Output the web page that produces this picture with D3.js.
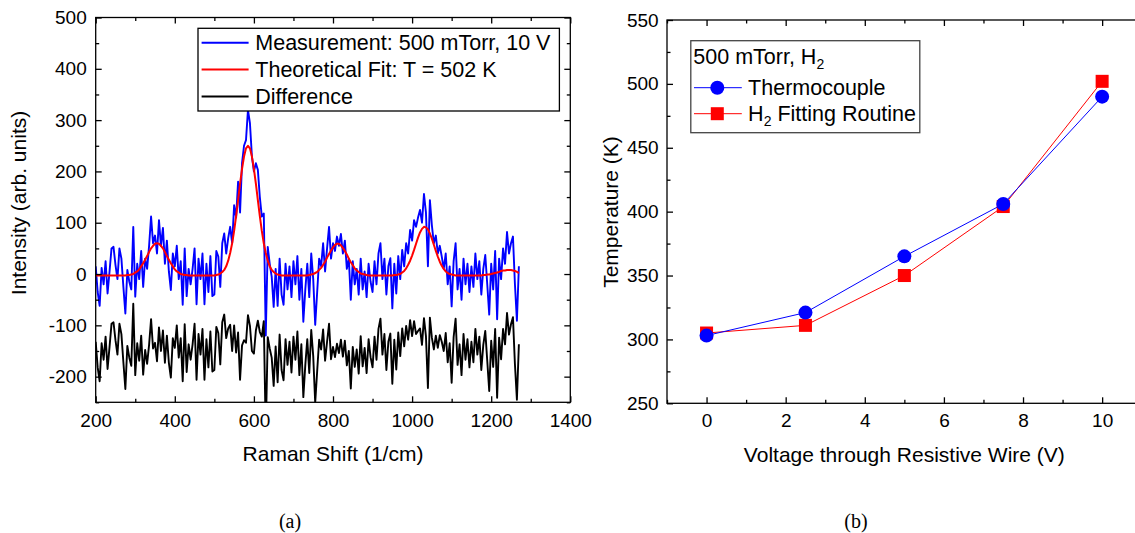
<!DOCTYPE html>
<html>
<head>
<meta charset="utf-8">
<script src="https://cdn.jsdelivr.net/npm/d3@7"></script>
<style>
  body { margin: 0; background: #fff; }
  svg { display: block; font-family: "Liberation Sans", Arial, sans-serif; }
</style>
</head>
<body>
<svg id="fig" width="1135" height="533"></svg>
<script>
// ---------- panel (a): Raman spectrum ----------
// sampling grid of the spectrum (1/cm)
const ramanShift = d3.range(200, 1271, 5);

const measurement = [
  15, -35, -62, 12, -20, 25, -38, 5, 50, 53,
  18, -10, 50, 30, -25, -77, 8, -15, -30, 92,
  -44, 20, -10, 45, -25, 30, 10, 55, 112, 60,
  75, 40, 105, 55, 90, 20, 65, 5, -31, 40,
  15, 55, -10, 25, -60, 50, -43, 10, -20, 10,
  50, -59, 30, -10, 40, -59, 20, -35, 35, -43,
  -40, 45, 34, -25, 60, 79, 40, 70, 92, 60,
  134, 110, 180, 120, 216, 250, 261, 320, 294, 229,
  200, 216, 203, 150, 112, 118, -120, 53, 20, -5,
  -64, 10, -62, 30, -40, -60, 20, -30, 15, -45,
  25, -20, 35, -50, 10, -93, -30, 20, -45, 40,
  -10, -99, -35, 30, 15, 60, 5, 50, 92, 30,
  60, 45, 73, 55, 78, 40, 65, 10, 30, -50,
  25, -20, 10, -40, 30, -30, 5, -45, 20, -15,
  -35, 25, -20, 40, 60, -10, 30, -40, 15, 31,
  -67, 20, -38, 35, -10, 47, 15, 60, 40, 86,
  65, 105, 92, 110, 125, 100, 156, 120, 15, 144,
  95, 60, 75, 40, 55, 34, 10, 40, -20, 15,
  -63, 25, 60, -30, 10, -50, 30, -20, 20, -35,
  15, -25, 40, -10, 25, -40, 10, 37, -20, -79,
  20, -30, 45, -88, 30, -10, 50, 20, 82, 40,
  60, 73, -20, -91, 15
];

const theoreticalFit = [
  -3, -3, -3, -3, -3, -3, -3, -3, -3, -3, -3, -3, -3, -3, -3, -3,
  -2, -2, -1, 0, 3, 5, 9, 15, 21, 28, 35, 43, 50, 55, 59, 60, 59, 55, 50, 43,
  35, 28, 21, 15, 9, 5, 3, 0, -1, -2, -2,
  -3, -3, -3, -3, -3, -3, -3, -3, -3, -3, -3, -3, -3, -3,
  -2, -1, 1, 4, 8, 15, 26, 41, 60, 84, 113, 144, 176, 205, 229, 245, 250,
  245, 229, 205, 176, 144, 113, 84, 60, 41, 26, 15, 8, 4, 1, -1, -2,
  -3, -3, -3, -3, -3, -3, -3, -3, -3, -3, -3, -3, -3,
  -3, -2, -1, 0, 2, 4, 8, 12, 18, 24, 32, 39, 46, 52, 57, 59, 59, 56, 51, 45,
  38, 30, 23, 17, 11, 7, 4, 1, 0, -1, -2, -3,
  -3, -3, -3, -3, -3, -3, -3, -3, -3, -3, -3, -3,
  -2, -2, -1, 0, 3, 6, 11, 18, 26, 36, 47, 59, 71, 81, 88, 92, 91, 87, 79, 69,
  57, 45, 34, 24, 16, 10, 5, 2, 0, -1, -2,
  -3, -3, -3, -3, -3, -3, -3, -3, -3, -3, -3, -3, -3, -3,
  -2, -2, -1, -1, 0, 1, 2, 3, 4, 6, 7, 7, 8, 8, 8, 7, 6, 4, 2
];

// difference curve as plotted (shifted down in the figure)
const difference = [
  -132, -182, -209, -135, -167, -122, -185, -142, -97, -94,
  -129, -157, -97, -117, -172, -224, -140, -163, -179, -58,
  -197, -135, -169, -120, -196, -148, -175, -138, -88, -145,
  -134, -170, -104, -150, -110, -173, -120, -173, -202, -125,
  -144, -100, -163, -125, -209, -98, -191, -137, -167, -137,
  -97, -206, -117, -157, -107, -206, -127, -182, -112, -190,
  -187, -103, -115, -176, -94, -79, -125, -106, -99, -150,
  -100, -153, -114, -206, -139, -129, -134, -80, -101, -150,
  -155, -110, -91, -113, -122, -92, -311, -123, -145, -163,
  -218, -141, -211, -118, -187, -207, -127, -177, -132, -192,
  -122, -167, -112, -197, -137, -240, -177, -127, -193, -109,
  -160, -251, -189, -128, -147, -108, -169, -132, -97, -166,
  -142, -162, -136, -154, -128, -161, -130, -178, -150, -223,
  -142, -181, -147, -194, -121, -180, -144, -193, -127, -162,
  -182, -122, -167, -107, -87, -157, -117, -187, -132, -116,
  -214, -128, -186, -114, -160, -106, -141, -101, -128, -90,
  -121, -92, -117, -111, -106, -138, -86, -121, -222, -85,
  -124, -147, -120, -144, -119, -132, -150, -115, -172, -135,
  -212, -123, -87, -177, -137, -197, -117, -167, -127, -182,
  -132, -172, -107, -157, -122, -187, -138, -111, -169, -228,
  -130, -181, -107, -241, -124, -166, -107, -137, -76, -118,
  -98, -84, -176, -245, -137
];

const spectrumLabels = ['Measurement: 500 mTorr, 10 V', 'Theoretical Fit: T = 502 K', 'Difference'];
const spectrumColors = ['#0000ff', '#ff0000', '#000000'];
const ramanTicks = [200, 400, 600, 800, 1000, 1200, 1400];
const ramanMinor = [300, 500, 700, 900, 1100, 1300];
const intensityTicks = [-200, -100, 0, 100, 200, 300, 400, 500];
const intensityMinor = [-250, -150, -50, 50, 150, 250, 350, 450];

// ---------- panel (b): temperature vs voltage ----------
const voltage = [0, 2.5, 5, 7.5, 10];
const thermocouple = [303, 321, 365, 406, 490];
const fittingRoutine = [305, 311, 350, 404, 502];
const voltTicks = [0, 2, 4, 6, 8, 10];
const voltMinor = [-1, 1, 3, 5, 7, 9, 11];
const tempTicks = [250, 300, 350, 400, 450, 500, 550];
const tempMinor = [275, 325, 375, 425, 475, 525];

const svg = d3.select('#fig');
svg.append('rect').attr('width', 1135).attr('height', 533).attr('fill', '#fff');

const MAJOR = 6, MINOR = 3.5, AXW = 1.3;

// inward ticks on all four sides plus a frame
function drawFrame(g, x, y, w, h, xMaj, xMin, yMaj, yMin, xPad, yPad) {
  const fmt = d => String(d);
  const sides = [
    { gen: d3.axisBottom(x).tickValues(xMaj).tickFormat(fmt).tickPadding(xPad), t: `translate(0,${h})` },
    { gen: d3.axisTop(x).tickValues(xMaj).tickFormat(''), t: 'translate(0,0)' },
    { gen: d3.axisLeft(y).tickValues(yMaj).tickFormat(fmt).tickPadding(yPad), t: 'translate(0,0)' },
    { gen: d3.axisRight(y).tickValues(yMaj).tickFormat(''), t: `translate(${w},0)` }
  ];
  sides.forEach(s => {
    const a = g.append('g').attr('transform', s.t)
      .call(s.gen.tickSize(-MAJOR).tickSizeOuter(0));
    a.select('.domain').remove();
    a.selectAll('line').attr('stroke', '#000').attr('stroke-width', AXW);
    a.selectAll('text').attr('fill', '#000').style('font-size', '19px');
  });
  const minors = [
    [d3.axisBottom(x).tickValues(xMin), `translate(0,${h})`],
    [d3.axisTop(x).tickValues(xMin), 'translate(0,0)'],
    [d3.axisLeft(y).tickValues(yMin), 'translate(0,0)'],
    [d3.axisRight(y).tickValues(yMin), `translate(${w},0)`]
  ];
  minors.forEach(([gen, t]) => {
    const a = g.append('g').attr('transform', t)
      .call(gen.tickFormat('').tickSize(-MINOR).tickSizeOuter(0));
    a.select('.domain').remove();
    a.selectAll('line').attr('stroke', '#000').attr('stroke-width', AXW);
  });
  g.append('rect').attr('width', w).attr('height', h)
    .attr('fill', 'none').attr('stroke', '#000').attr('stroke-width', AXW);
}

// ================= panel (a) =================
{
  const m = { left: 95.7, top: 17.5 };
  const w = 474.6, h = 384.8;
  const g = svg.append('g').attr('transform', `translate(${m.left},${m.top})`);

  const x = d3.scaleLinear().domain([200, 1400]).range([0, w]);
  const y = d3.scaleLinear().domain([-250, 500]).range([h, 0]);

  g.append('defs').append('clipPath').attr('id', 'clipA')
    .append('rect').attr('width', w).attr('height', h);
  const plot = g.append('g').attr('clip-path', 'url(#clipA)');

  const line = d3.line().x((d, i) => x(ramanShift[i])).y(d => y(d));
  [measurement, theoreticalFit, difference].forEach((series, k) => {
    plot.append('path').datum(series)
      .attr('fill', 'none')
      .attr('stroke', spectrumColors[k])
      .attr('stroke-width', k === 1 ? 2 : 1.9)
      .attr('stroke-linejoin', 'round')
      .attr('d', line);
  });

  drawFrame(g, x, y, w, h, ramanTicks, ramanMinor, intensityTicks, intensityMinor, 11, 9);

  g.append('text')
    .attr('x', x(800)).attr('y', h + 58.5)
    .attr('text-anchor', 'middle').style('font-size', '21px')
    .text('Raman Shift (1/cm)');
  g.append('text')
    .attr('transform', `translate(${26 - m.left},${203 - m.top}) rotate(-90)`)
    .attr('text-anchor', 'middle').style('font-size', '21px')
    .text('Intensity (arb. units)');

  // legend
  const lg = svg.append('g').attr('transform', 'translate(198,28.3)');
  lg.append('rect').attr('width', 361.4).attr('height', 82.7)
    .attr('fill', '#fff').attr('stroke', '#000').attr('stroke-width', AXW);
  spectrumLabels.forEach((lab, k) => {
    const cy = 14.4 + k * 26.9;
    lg.append('line').attr('x1', 3.6).attr('x2', 50.6).attr('y1', cy).attr('y2', cy)
      .attr('stroke', spectrumColors[k]).attr('stroke-width', 2);
    lg.append('text').attr('x', 57.3).attr('y', cy + 7.6)
      .style('font-size', '21.5px').text(lab);
  });

  svg.append('text').attr('x', 290).attr('y', 528)
    .attr('text-anchor', 'middle')
    .style('font-family', '"Liberation Serif", "Times New Roman", serif')
    .style('font-size', '20px').text('(a)');
}

// ================= panel (b) =================
{
  const m = { left: 667, top: 20 };
  const w = 474.7, h = 383.3;
  const g = svg.append('g').attr('transform', `translate(${m.left},${m.top})`);

  const x = d3.scaleLinear().domain([-1, 11]).range([0, w]);
  const y = d3.scaleLinear().domain([250, 550]).range([h, 0]);

  drawFrame(g, x, y, w, h, voltTicks, voltMinor, tempTicks, tempMinor, 10.5, 8.4);

  const line = d3.line().x((d, i) => x(voltage[i])).y(d => y(d));
  g.append('path').datum(fittingRoutine)
    .attr('fill', 'none').attr('stroke', '#ff0000').attr('stroke-width', 1).attr('d', line);
  g.append('path').datum(thermocouple)
    .attr('fill', 'none').attr('stroke', '#0000ff').attr('stroke-width', 1).attr('d', line);

  const sq = 13;
  g.selectAll('rect.fit').data(fittingRoutine).join('rect')
    .attr('class', 'fit')
    .attr('x', (d, i) => x(voltage[i]) - sq / 2)
    .attr('y', d => y(d) - sq / 2)
    .attr('width', sq).attr('height', sq)
    .attr('fill', '#ff0000');
  g.selectAll('circle.tc').data(thermocouple).join('circle')
    .attr('class', 'tc')
    .attr('cx', (d, i) => x(voltage[i]))
    .attr('cy', d => y(d))
    .attr('r', 7).attr('fill', '#0000ff');

  g.append('text')
    .attr('x', x(5)).attr('y', h + 58.7)
    .attr('text-anchor', 'middle').style('font-size', '21px')
    .text('Voltage through Resistive Wire (V)');
  g.append('text')
    .attr('transform', `translate(${617.5 - m.left},${212 - m.top}) rotate(-90)`)
    .attr('text-anchor', 'middle').style('font-size', '21px')
    .text('Temperature (K)');

  // legend
  const lg = svg.append('g').attr('transform', 'translate(690.8,40.7)');
  lg.append('rect').attr('width', 229).attr('height', 92)
    .attr('fill', '#fff').attr('stroke', '#444').attr('stroke-width', AXW);
  const title = lg.append('text').attr('x', 2.5).attr('y', 23.5).style('font-size', '21.5px');
  title.append('tspan').text('500 mTorr, H');
  title.append('tspan').attr('dy', 5).style('font-size', '14px').text('2');

  const r1 = 47, r2 = 73;
  lg.append('line').attr('x1', 3.2).attr('x2', 51).attr('y1', r1).attr('y2', r1)
    .attr('stroke', '#0000ff').attr('stroke-width', 1);
  lg.append('circle').attr('cx', 26.5).attr('cy', r1).attr('r', 7).attr('fill', '#0000ff');
  lg.append('text').attr('x', 57.3).attr('y', r1 + 7.6).style('font-size', '21.5px').text('Thermocouple');

  lg.append('line').attr('x1', 3.2).attr('x2', 51).attr('y1', r2).attr('y2', r2)
    .attr('stroke', '#ff0000').attr('stroke-width', 1);
  lg.append('rect').attr('x', 26.5 - sq / 2).attr('y', r2 - sq / 2)
    .attr('width', sq).attr('height', sq).attr('fill', '#ff0000');
  const t2 = lg.append('text').attr('x', 57.3).attr('y', r2 + 7.6).style('font-size', '21.5px');
  t2.append('tspan').text('H');
  t2.append('tspan').attr('dy', 5).style('font-size', '14px').text('2');
  t2.append('tspan').attr('dy', -5).text(' Fitting Routine');

  svg.append('text').attr('x', 856).attr('y', 528)
    .attr('text-anchor', 'middle')
    .style('font-family', '"Liberation Serif", "Times New Roman", serif')
    .style('font-size', '20px').text('(b)');
}
</script>
</body>
</html>
